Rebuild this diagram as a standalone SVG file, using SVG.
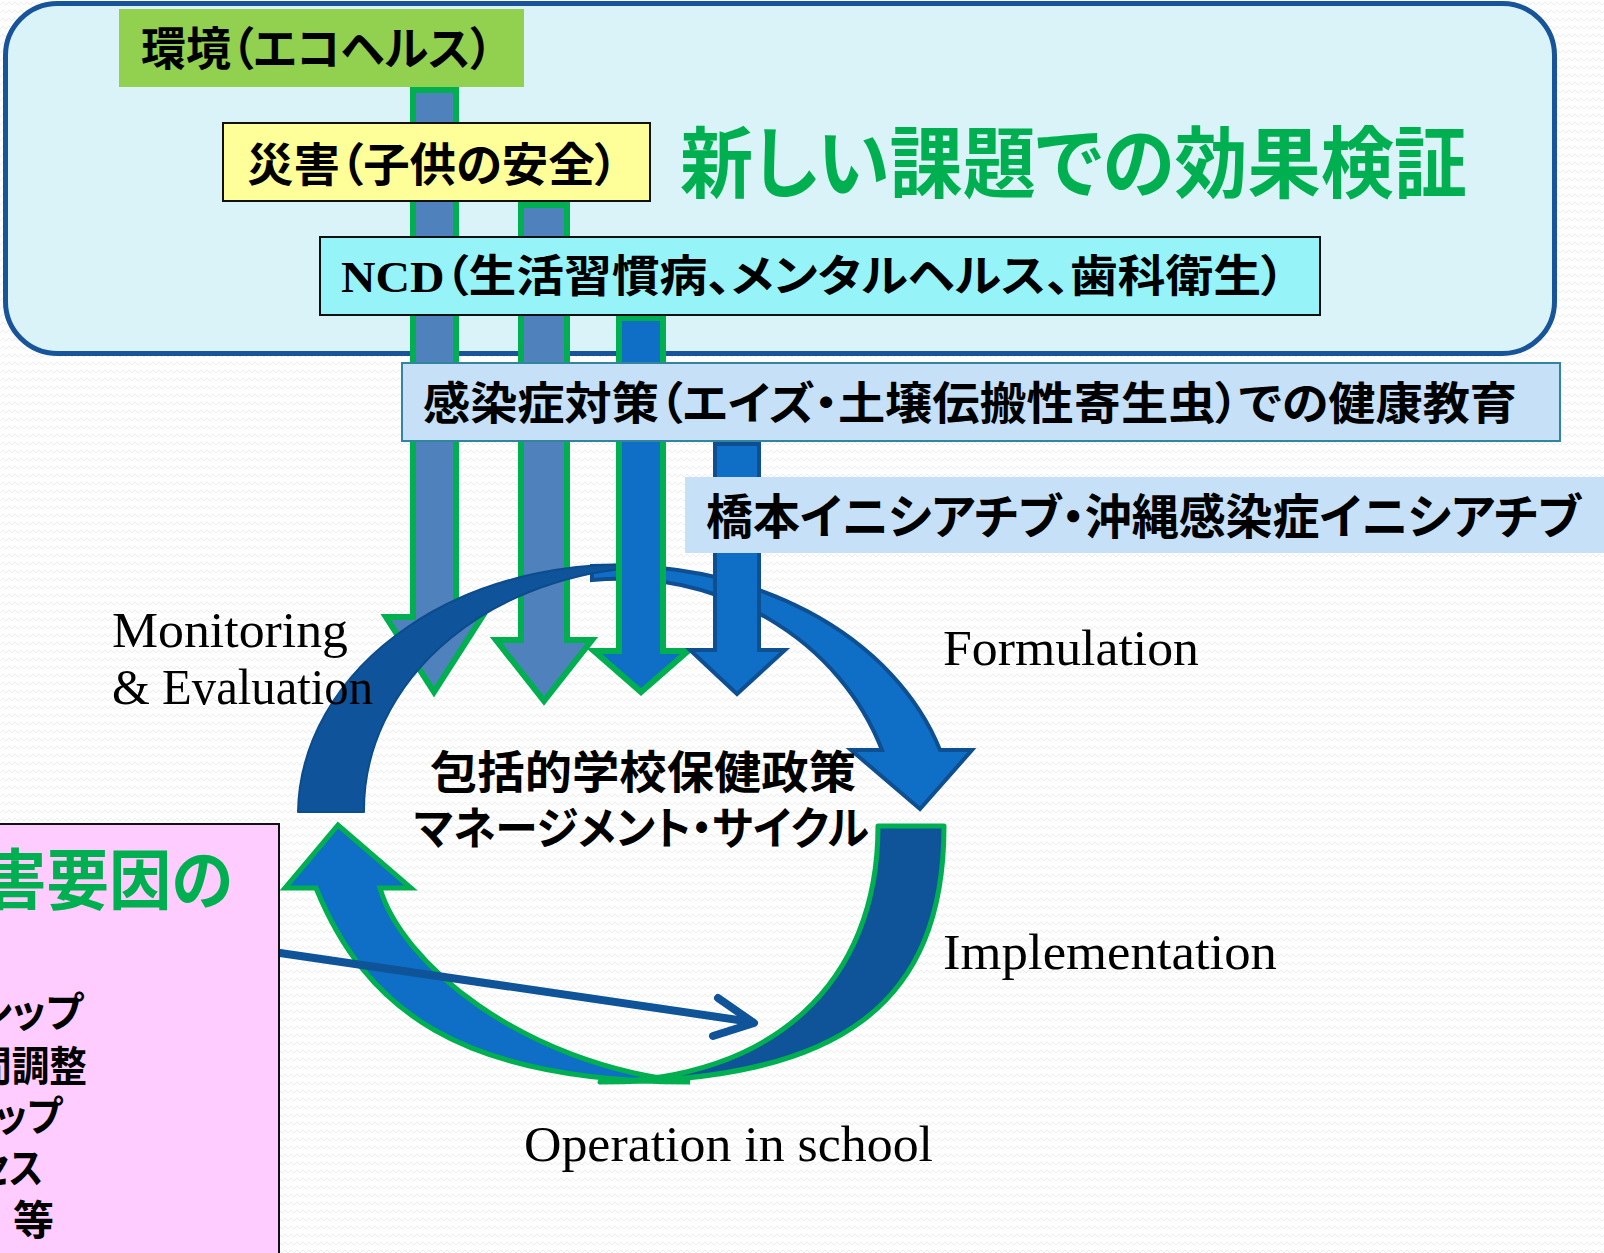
<svg xmlns="http://www.w3.org/2000/svg" width="1604" height="1253" viewBox="0 0 1604 1253">
<defs>
<pattern id="bgpat" width="12" height="8" patternUnits="userSpaceOnUse">
<path d="M0 5 L3 2 L6 5 L9 2 L12 5" fill="none" stroke="#ECECEC" stroke-width="1"/>
</pattern>
<style>
.jp{font-family:"Liberation Serif","Noto Sans CJK JP",serif;font-weight:700;fill:#000;font-feature-settings:"palt" 1;}
.en{font-family:"Liberation Serif",serif;font-size:50px;fill:#000;}
.green{fill:#00B050;}
.arrS{fill:#4F81BD;stroke:#00B050;stroke-width:6;stroke-linejoin:miter;}
.arrG{fill:#0F6FC6;stroke:#00B050;stroke-width:6;stroke-linejoin:miter;}
.arrD{fill:#0F6FC6;stroke:#0E4F92;stroke-width:4;stroke-linejoin:miter;}
.box{stroke:#111;stroke-width:2;}
</style>
</defs>
<rect x="0" y="0" width="1604" height="1253" fill="#FFFFFF"/>
<rect x="0" y="0" width="1604" height="1253" fill="url(#bgpat)"/>

<g id="panel">
<rect x="5.5" y="3.5" width="1549" height="350" rx="52" ry="52" fill="#DAF3F8" stroke="#17549A" stroke-width="5"/>
</g>

<g id="connectors-back">
<path class="arrS" d="M413 90 L456 90 L456 617 L482 617 L434 692 L386 617 L413 617 Z"/>
<path class="arrS" d="M521 205 L567 205 L567 640 L592 640 L544 701 L496 640 L521 640 Z"/>
</g>

<g id="cycle">
<path id="arc-formulation" d="M592 566 A340 262 0 0 1 940 750 L972 750 L920 809 L851 750 L882 750 A279 260 0 0 0 592 580 Z" fill="#0F6FC6" stroke="#0E4F92" stroke-width="4" stroke-linejoin="miter" stroke-miterlimit="4"/>
<path id="arc-monitoring" d="M298 812 A322 250 0 0 1 662 567 A296 243 0 0 0 364 812 Z" fill="#0F539A" stroke="#0B4C8C" stroke-width="2" stroke-linejoin="round"/>
<path id="arc-operation" d="M690 1082 C458 1082 365 1008 316 888 L285 888 L338 825 L411 888 L380 888 C400 960 520 1065 690 1082 Z" fill="#0F6FC6" stroke="#00B050" stroke-width="5" stroke-linejoin="miter" stroke-miterlimit="3"/>
<path id="arc-implementation" d="M944 826 C944 1004 841 1082 600 1082 C772 1080 878 984 878 826 Z" fill="#0F5499" stroke="#00B050" stroke-width="5" stroke-linejoin="round"/>
</g>

<g id="connectors">
<path class="arrG" d="M619 318 L663 318 L663 651 L688 651 L641 692 L594 651 L619 651 Z"/>
<path class="arrD" d="M715 444 L759 444 L759 650 L785 650 L737 694 L690 650 L715 650 Z"/>
<g fill="none" stroke="#0F5499" stroke-width="8" stroke-linecap="round" stroke-linejoin="round">
<line x1="280" y1="953" x2="752" y2="1022"/>
<polyline points="718,998 754,1023 713,1036"/>
</g>
</g>

<g id="node-env">
<rect x="119" y="9" width="405" height="78" fill="#92D050"/>
<text class="jp" x="141" y="65" font-size="46" textLength="352" lengthAdjust="spacingAndGlyphs">環境（エコヘルス）</text>
</g>
<g id="node-disaster">
<rect class="box" x="223" y="123" width="427" height="78" fill="#FFFF99"/>
<text class="jp" x="247" y="181" font-size="46" textLength="371" lengthAdjust="spacingAndGlyphs">災害（子供の安全）</text>
</g>
<g id="node-title">
<text class="jp green" x="680" y="192" font-size="78" textLength="787" lengthAdjust="spacingAndGlyphs">新しい課題での効果検証</text>
</g>
<g id="node-ncd">
<rect class="box" x="320" y="237" width="1000" height="78" fill="#96F4F9"/>
<text class="jp" x="341" y="292" font-size="44" textLength="944" lengthAdjust="spacingAndGlyphs">NCD（生活習慣病、メンタルヘルス、歯科衛生）</text>
</g>
<g id="node-infection">
<rect x="402" y="363" width="1158" height="78" fill="#C6E0F7" stroke="#31859C" stroke-width="2"/>
<text class="jp" x="423" y="420" font-size="45" textLength="1094" lengthAdjust="spacingAndGlyphs">感染症対策（エイズ・土壌伝搬性寄生虫）での健康教育</text>
</g>
<g id="node-initiative">
<rect x="685" y="477" width="925" height="76" fill="#C6E0F7"/>
<text class="jp" x="706" y="534" font-size="48" textLength="875" lengthAdjust="spacingAndGlyphs">橋本イニシアチブ・沖縄感染症イニシアチブ</text>
</g>

<g id="node-center">
<text class="jp" x="430" y="789" font-size="45" textLength="426" lengthAdjust="spacingAndGlyphs">包括的学校保健政策</text>
<text class="jp" x="414" y="845" font-size="45" textLength="455" lengthAdjust="spacingAndGlyphs">マネージメント・サイクル</text>
</g>

<g id="node-factors">
<rect x="-3" y="824" width="282" height="440" fill="#FFCCFF" stroke="#111" stroke-width="2"/>
<text class="jp green" x="-16" y="904" font-size="66" textLength="249" lengthAdjust="spacingAndGlyphs">害要因の</text>
<text class="jp" x="-25" y="1027" font-size="41" textLength="108" lengthAdjust="spacingAndGlyphs">シップ</text>
<text class="jp" x="-26" y="1081" font-size="41" textLength="113" lengthAdjust="spacingAndGlyphs">間調整</text>
<text class="jp" x="-40" y="1131" font-size="41" textLength="102" lengthAdjust="spacingAndGlyphs">シップ</text>
<text class="jp" x="-25" y="1183" font-size="41" textLength="68" lengthAdjust="spacingAndGlyphs">セス</text>
<text class="jp" x="13" y="1235" font-size="41">等</text>
</g>

<g id="labels">
<text class="en" x="112" y="647" textLength="236" lengthAdjust="spacingAndGlyphs">Monitoring</text>
<text class="en" x="112" y="704" textLength="261" lengthAdjust="spacingAndGlyphs">&amp; Evaluation</text>
<text class="en" x="943" y="665" textLength="256" lengthAdjust="spacingAndGlyphs">Formulation</text>
<text class="en" x="943" y="969" textLength="334" lengthAdjust="spacingAndGlyphs">Implementation</text>
<text class="en" x="524" y="1161" textLength="409" lengthAdjust="spacingAndGlyphs">Operation in school</text>
</g>
</svg>
